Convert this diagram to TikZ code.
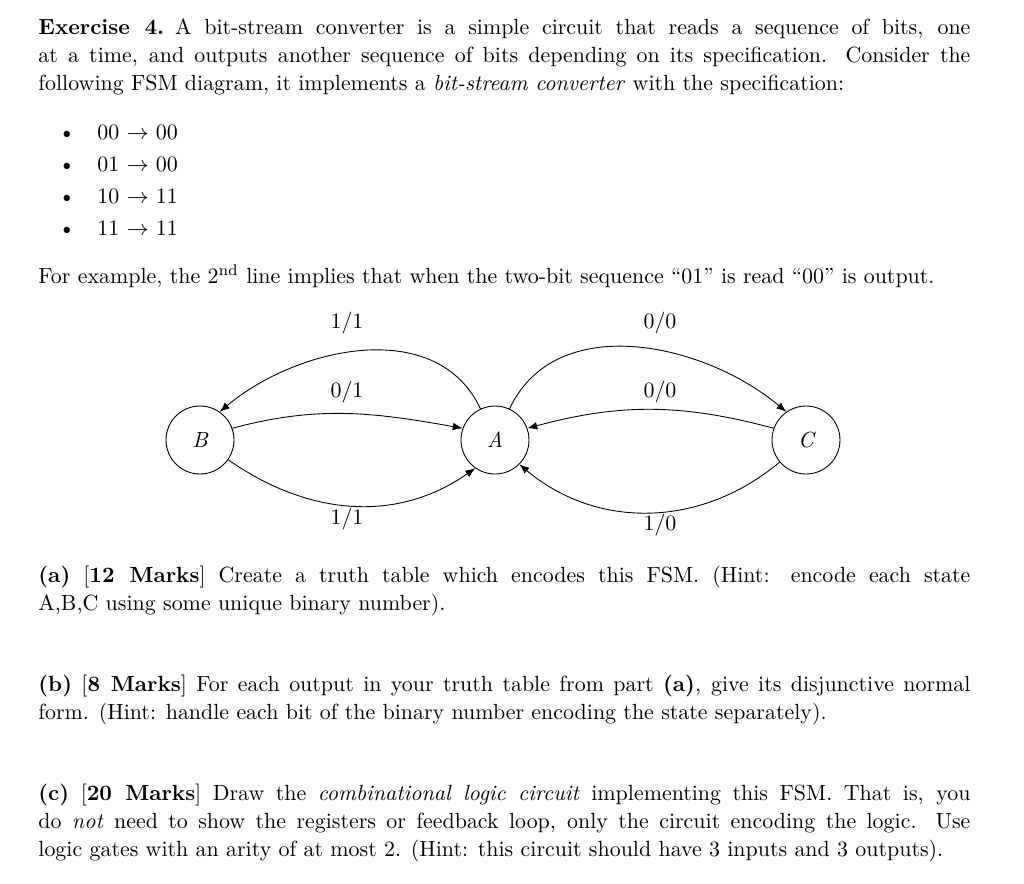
\documentclass[tikz,border=0pt]{standalone}
\usetikzlibrary{arrows.meta}
\begin{document}
\begin{tikzpicture}[x=0.456pt,y=-0.456pt,
  par/.style={anchor=north west,inner sep=0pt,text width=425pt,align=justify,font=\fontsize{10}{12.77}\selectfont},
  ln/.style={anchor=base west,inner sep=0pt,font=\fontsize{10}{12.77}\selectfont},
  st/.style={circle,draw,minimum size=31pt,inner sep=0pt,font=\fontsize{10}{12}\selectfont\itshape},
  lab/.style={inner sep=0pt,font=\fontsize{10}{12}\selectfont},
  edge/.style={-{Latex[length=4.5pt,width=3.5pt]},line width=0.4pt}]
\useasboundingbox[fill=white] (0,0) rectangle (1024,883);
\node[par] (p1) at (38,18) {\textbf{Exercise 4.}\enspace A bit-stream converter is a simple circuit that reads a sequence of bits, one\linebreak at a time, and outputs another sequence of bits depending on its specification. Consider the\linebreak following FSM diagram, it implements a \textit{bit-stream converter} with the specification:};
\node[ln] (b1) at (58,139) {\textbullet\quad 00 $\rightarrow$ 00};
\node[ln] (b2) at (58,171) {\textbullet\quad 01 $\rightarrow$ 00};
\node[ln] (b3) at (58,203) {\textbullet\quad 10 $\rightarrow$ 11};
\node[ln] (b4) at (58,235) {\textbullet\quad 11 $\rightarrow$ 11};
\node[ln] (p2) at (38,283) {For example, the 2\textsuperscript{nd} line implies that when the two-bit sequence ``01'' is read ``00'' is output.};

\node[st] (B) at (200,440) {B};
\node[st] (A) at (495,440) {A};
\node[st] (C) at (806,440) {C};
\draw[edge] (A.115) to[out=115,in=40] (B.55);
\draw[edge] (B.20) to[out=15,in=170] (A.160);
\draw[edge] (B.-35) to[out=-35,in=-145] (A.-125);
\draw[edge] (A.65) to[out=65,in=140] (C.125);
\draw[edge] (C.160) to[out=165,in=15] (A.20);
\draw[edge] (C.-140) to[out=-140,in=-40] (A.-45);
\node[lab] (l1) at (347,323) {1/1};
\node[lab] (l2) at (660,323) {0/0};
\node[lab] (l3) at (347,392) {0/1};
\node[lab] (l4) at (660,392) {0/0};
\node[lab] (l5) at (347,519) {1/1};
\node[lab] (l6) at (660,525) {1/0};

\node[par] (pa) at (38,566) {\textbf{(a)} [\textbf{12 Marks}] Create a truth table which encodes this FSM. (Hint: encode each state\linebreak A,B,C using some unique binary number).};
\node[par] (pb) at (38,675) {\textbf{(b)} [\textbf{8 Marks}] For each output in your truth table from part \textbf{(a)}, give its disjunctive normal\linebreak form. (Hint: handle each bit of the binary number encoding the state separately).};
\node[par] (pc) at (38,784) {\textbf{(c)} [\textbf{20 Marks}] Draw the \textit{combinational logic circuit} implementing this FSM. That is, you\linebreak do \textit{not} need to show the registers or feedback loop, only the circuit encoding the logic. Use\linebreak logic gates with an arity of at most 2. (Hint: this circuit should have 3 inputs and 3 outputs).};
\end{tikzpicture}
\end{document}
